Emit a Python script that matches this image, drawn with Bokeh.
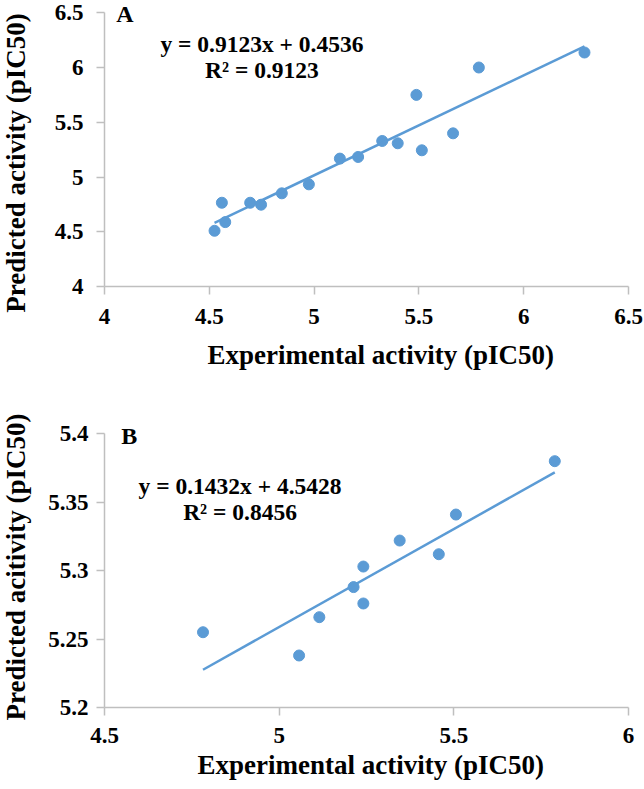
import math
from bokeh.plotting import figure
from bokeh.layouts import column, row
from bokeh.models import FixedTicker, Label, Range1d, Title
from bokeh.embed import file_html
from bokeh.resources import INLINE

# ---- Data: panel A ----
a_exp = [4.525, 4.560, 4.576, 4.695, 4.747, 4.846, 4.975, 5.123, 5.210, 5.325,
         5.399, 5.488, 5.514, 5.663, 5.786, 6.290]
a_pred = [4.509, 4.765, 4.588, 4.765, 4.747, 4.851, 4.933, 5.168, 5.183, 5.329,
          5.308, 5.750, 5.244, 5.399, 6.000, 6.137]
a_slope = 0.9123
a_intercept = 0.4536
a_eq = "y = 0.9123x + 0.4536"
a_r2 = "R² = 0.9123"
a_xticks = [4, 4.5, 5, 5.5, 6, 6.5]
a_xlabels = ["4", "4.5", "5", "5.5", "6", "6.5"]
a_yticks = [4, 4.5, 5, 5.5, 6, 6.5]
a_ylabels = ["4", "4.5", "5", "5.5", "6", "6.5"]

# ---- Data: panel B ----
b_exp = [4.782, 5.057, 5.115, 5.213, 5.241, 5.241, 5.345, 5.457, 5.506, 5.789]
b_pred = [5.255, 5.238, 5.266, 5.288, 5.303, 5.276, 5.322, 5.312, 5.341, 5.380]
b_slope = 0.1432
b_intercept = 4.5428
b_eq = "y = 0.1432x + 4.5428"
b_r2 = "R² = 0.8456"
b_xticks = [4.5, 5, 5.5, 6]
b_xlabels = ["4.5", "5", "5.5", "6"]
b_yticks = [5.2, 5.25, 5.3, 5.35, 5.4]
b_ylabels = ["5.2", "5.25", "5.3", "5.35", "5.4"]

x_title = "Experimental activity (pIC50)"
a_y_title = "Predicted activity (pIC50)"
b_y_title = "Predicted acitivity (pIC50)"

BLUE = "#5B9BD5"
AXIS = "#BFBFBF"
FONT = "Liberation Serif"


def style_axes(p, xticks, xlabels, yticks, ylabels, xstand, ystand):
    for ax, ticks, labels, st in ((p.xaxis[0], xticks, xlabels, xstand),
                                  (p.yaxis[0], yticks, ylabels, ystand)):
        ax.ticker = FixedTicker(ticks=ticks)
        ax.bounds = (ticks[0], ticks[-1])
        ax.major_label_overrides = {t: l for t, l in zip(ticks, labels)}
        ax.axis_line_color = AXIS
        ax.axis_line_width = 1.5
        ax.major_tick_line_color = AXIS
        ax.major_tick_line_width = 1.5
        ax.major_tick_in = 0
        ax.major_tick_out = 8
        ax.minor_tick_line_color = None
        ax.major_label_text_font = FONT
        ax.major_label_text_font_style = "bold"
        ax.major_label_text_font_size = "23px"
        ax.major_label_text_color = "black"
        ax.major_label_standoff = st
    p.grid.visible = False
    p.outline_line_color = None


def x_title_below(p, text, offset, standoff):
    p.add_layout(Title(text=text, align="left", vertical_align="bottom", offset=offset,
                       standoff=standoff, text_font=FONT, text_font_style="bold",
                       text_font_size="27px", text_color="black"), "below")


def add_text(p, x, y, text, size, align="center", angle=0.0):
    p.add_layout(Label(x=x, y=y, text=text, text_font=FONT, text_font_style="bold",
                       text_font_size=size, text_color="black", angle=angle,
                       text_align=align, text_baseline="middle"))


def panel(exp, pred, slope, intercept, xr, yr, w, h, borders):
    p = figure(width=w, height=h, x_range=Range1d(*xr), y_range=Range1d(*yr),
               output_backend="svg", toolbar_location=None,
               min_border_left=borders[0], min_border_right=borders[1],
               min_border_top=borders[2], min_border_bottom=borders[3])
    p.background_fill_color = "white"
    p.border_fill_color = "white"
    xs = [min(exp), max(exp)]
    ys = [slope * v + intercept for v in xs]
    p.scatter(exp, pred, size=11, fill_color=BLUE, line_color=BLUE)
    p.line(xs, ys, line_color=BLUE, line_width=2.5)
    return p


TW = 34          # width of the strip holding the y titles
W = 644 - TW
H = 789
H1, H2 = 398, 391

# strip with the two vertical axis titles (pixel-scaled frame)
strip = figure(width=TW, height=H, x_range=Range1d(0, TW), y_range=Range1d(0, H),
               output_backend="svg", toolbar_location=None, min_border=0,
               x_axis_location=None, y_axis_location=None)
strip.grid.visible = False
strip.outline_line_color = None
add_text(strip, 15.5, H - 162.5, a_y_title, "27px", angle=math.pi / 2)
add_text(strip, 15.5, H - 566.5, b_y_title, "27px", angle=math.pi / 2)

# Panel A
pa = panel(a_exp, a_pred, a_slope, a_intercept, (4, 6.5), (4, 6.612), W, H1,
           (99 - TW, 16, 0, H1 - 286))
style_axes(pa, a_xticks, a_xlabels, a_yticks, a_ylabels, 14, 13)
x_title_below(pa, x_title, 103, 22)
add_text(pa, 4.056, 6.49, "A", "24px", align="left")
add_text(pa, 4.751, 6.219, a_eq, "23.5px")
add_text(pa, 4.751, 5.973, a_r2, "23.5px")

# Panel B
pb = panel(b_exp, b_pred, b_slope, b_intercept, (4.5, 6), (5.2, 5.4258), W, H2,
           (104 - TW, 11, 0, H2 - 309))
style_axes(pb, b_xticks, b_xlabels, b_yticks, b_ylabels, 12, 8)
x_title_below(pb, x_title, 93, 4)
add_text(pb, 4.548, 5.3985, "B", "24px", align="left")
add_text(pb, 4.888, 5.3622, b_eq, "23.5px")
add_text(pb, 4.888, 5.3425, b_r2, "23.5px")

layout = row(strip, column(pa, pb))
open("out.html", "w").write(file_html(layout, INLINE))
